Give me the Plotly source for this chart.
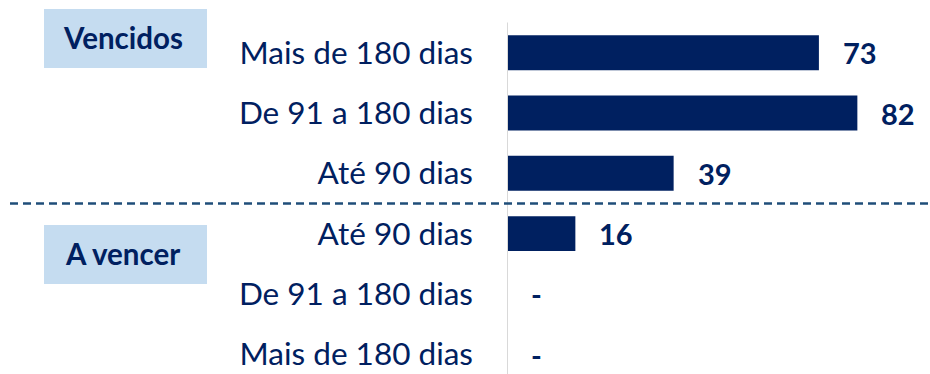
import plotly.graph_objects as go

# Aging buckets, top to bottom
categories = [
    "Mais de 180 dias",
    "De 91 a 180 dias",
    "Até 90 dias",
    "Até 90 dias",
    "De 91 a 180 dias",
    "Mais de 180 dias",
]
values = [73, 82, 39, 16, 0, 0]
group_labels = ["Vencidos", "A vencer"]

NAVY = "#002060"
BOX = "#C5DCF0"
FONT = "Lato"
W, H = 930, 374

positions = list(range(len(categories)))
label_text = [str(v) if v else "-" for v in values]

fig = go.Figure()
fig.add_trace(
    go.Bar(
        x=values,
        y=positions,
        orientation="h",
        width=0.58,
        marker=dict(color=NAVY, line=dict(width=0)),
        hoverinfo="skip",
    )
)

# Value labels placed just past each bar end
for v, p, t in zip(values, positions, label_text):
    fig.add_annotation(
        x=v, y=p, text=t, showarrow=False,
        xanchor="left", yanchor="middle", xshift=22,
        font=dict(family=FONT, size=29, color=NAVY, weight="bold"),
    )

# Vertical baseline at zero
fig.add_shape(
    type="line", xref="x", yref="y", x0=0, x1=0, y0=-0.5, y1=5.4,
    line=dict(color="#D9D9D9", width=2),
)

# Dashed separator between overdue and upcoming groups
fig.add_shape(
    type="line", xref="paper", yref="y", x0=10 / W, x1=1, y0=2.5, y1=2.5,
    line=dict(color="#1F4E79", width=2.5, dash="8px,5px"),
)

# Group header boxes
box_specs = [(44, 207, 9, 68), (44, 207, 225, 284)]
for (x0, x1, y0, y1), name in zip(box_specs, group_labels):
    fig.add_shape(
        type="rect", xref="paper", yref="paper",
        x0=x0 / W, x1=x1 / W, y0=1 - y1 / H, y1=1 - y0 / H,
        fillcolor=BOX, line=dict(width=0), layer="below",
    )
    fig.add_annotation(
        xref="paper", yref="paper",
        x=(x0 + x1) / 2 / W - 3 / W, y=1 - (y0 + y1 - 2) / 2 / H,
        text=name, showarrow=False, xanchor="center", yanchor="middle",
        font=dict(family=FONT, size=29.5, color=NAVY, weight="bold"),
    )

fig.update_layout(
    width=W, height=H,
    margin=dict(l=0, r=0, t=0, b=0),
    paper_bgcolor="white", plot_bgcolor="white",
    showlegend=False,
    xaxis=dict(
        domain=[507 / W, 1], range=[0, 99],
        showgrid=False, zeroline=False, showticklabels=False, showline=False,
    ),
    yaxis=dict(
        domain=[0, 1], range=[5.328, -0.874],
        tickmode="array", tickvals=positions, ticktext=categories,
        showgrid=False, zeroline=False, showline=False, ticks="",
        ticklabelstandoff=33,
        tickfont=dict(family=FONT, size=31.5, color=NAVY),
    ),
)

fig.write_html("out.html")
